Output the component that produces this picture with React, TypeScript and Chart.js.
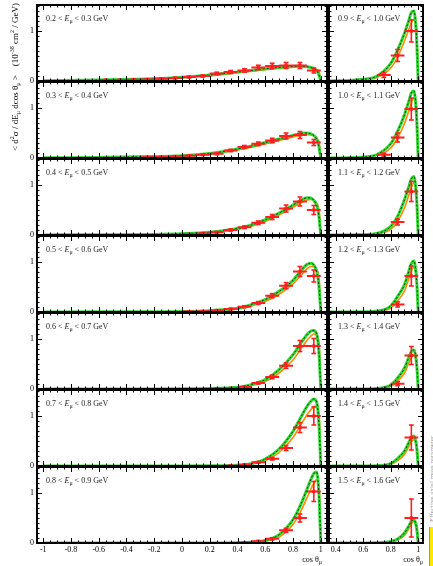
import React, { useEffect, useRef } from 'react';
import { Chart, registerables } from 'chart.js';

Chart.register(...registerables);

const W = 433;
const H = 566;
const FONT = '"Liberation Serif", "DejaVu Serif", "Times New Roman", serif';
const RED = '#ff1f1f';
const GREEN = '#30d830';
const ORANGE = '#ff8800';
const DOT = '#0a3a0a';

// Muon kinetic-energy bin edges (GeV)
const E_EDGES_LEFT = ['0.2', '0.3', '0.4', '0.5', '0.6', '0.7', '0.8', '0.9'];
const E_EDGES_RIGHT = ['0.9', '1.0', '1.1', '1.2', '1.3', '1.4', '1.5', '1.6'];

// Axis ticks
const X_TICKS_LEFT = [-1, -0.8, -0.6, -0.4, -0.2, 0, 0.2, 0.4, 0.6, 0.8, 1];
const X_LABELS_LEFT = ['-1', '-0.8', '-0.6', '-0.4', '-0.2', '0', '0.2', '0.4', '0.6', '0.8', '1'];
const X_TICKS_RIGHT = [0.4, 0.6, 0.8, 1];
const X_LABELS_RIGHT = ['0.4', '0.6', '0.8', '1'];
const Y_TICKS = [0, 1];
const Y_LABELS = ['0', '1'];

const BIN_HALF = 0.05;

// Theory curves: cos(theta) sampling
const CURVE_X_LEFT = [-1, -0.6, -0.2, 0, 0.2, 0.4, 0.5, 0.6, 0.7, 0.8, 0.85, 0.9, 0.93, 0.95, 0.97, 0.98, 0.99, 1.0];
const CURVE_X_RIGHT = [0.35, 0.5, 0.6, 0.7, 0.8, 0.85, 0.9, 0.93, 0.95, 0.97, 0.98, 0.99, 1.0];

const GREEN_L0 = [0.005, 0.02, 0.045, 0.075, 0.12, 0.18, 0.21, 0.245, 0.27, 0.29, 0.295, 0.285, 0.27, 0.25, 0.21, 0.17, 0.1, 0];
const ORANGE_L0 = [0.004, 0.017, 0.04, 0.066, 0.107, 0.165, 0.195, 0.228, 0.255, 0.275, 0.28, 0.275, 0.265, 0.25, 0.23, 0.21, 0.17, 0];
const GREEN_L1 = [0.003, 0.012, 0.028, 0.045, 0.09, 0.18, 0.24, 0.31, 0.38, 0.45, 0.49, 0.5, 0.48, 0.45, 0.38, 0.31, 0.18, 0];
const ORANGE_L1 = [0.003, 0.01, 0.024, 0.04, 0.08, 0.16, 0.215, 0.28, 0.35, 0.42, 0.455, 0.47, 0.46, 0.445, 0.4, 0.36, 0.28, 0];
const GREEN_L2 = [0.002, 0.005, 0.012, 0.025, 0.055, 0.13, 0.2, 0.305, 0.44, 0.6, 0.68, 0.745, 0.74, 0.69, 0.6, 0.5, 0.3, 0];
const ORANGE_L2 = [0.002, 0.004, 0.01, 0.021, 0.046, 0.11, 0.175, 0.27, 0.4, 0.555, 0.635, 0.7, 0.71, 0.7, 0.64, 0.58, 0.45, 0];
const GREEN_L3 = [0.001, 0.003, 0.006, 0.01, 0.027, 0.073, 0.147, 0.25, 0.413, 0.633, 0.8, 0.95, 0.975, 0.94, 0.82, 0.68, 0.42, 0];
const ORANGE_L3 = [0.001, 0.002, 0.005, 0.008, 0.021, 0.06, 0.122, 0.21, 0.355, 0.56, 0.71, 0.86, 0.91, 0.91, 0.86, 0.78, 0.6, 0];
const GREEN_L4 = [0, 0.001, 0.002, 0.003, 0.01, 0.033, 0.087, 0.187, 0.387, 0.687, 0.887, 1.087, 1.16, 1.17, 1.1, 0.95, 0.6, 0];
const ORANGE_L4 = [0, 0.001, 0.002, 0.003, 0.008, 0.026, 0.068, 0.15, 0.32, 0.58, 0.77, 0.97, 1.06, 1.1, 1.09, 1.02, 0.82, 0];
const GREEN_L5 = [0, 0, 0.001, 0.001, 0.004, 0.015, 0.047, 0.14, 0.34, 0.693, 0.94, 1.19, 1.3, 1.34, 1.28, 1.1, 0.7, 0];
const ORANGE_L5 = [0, 0, 0.001, 0.001, 0.003, 0.011, 0.036, 0.105, 0.27, 0.57, 0.79, 1.02, 1.13, 1.19, 1.2, 1.13, 0.92, 0];
const GREEN_L6 = [0, 0, 0, 0.001, 0.002, 0.006, 0.015, 0.053, 0.167, 0.467, 0.733, 1.067, 1.28, 1.39, 1.42, 1.25, 0.8, 0];
const ORANGE_L6 = [0, 0, 0, 0.001, 0.002, 0.004, 0.011, 0.038, 0.12, 0.37, 0.6, 0.9, 1.08, 1.2, 1.27, 1.22, 1.0, 0];

const GREEN_R0 = [0.002, 0.01, 0.033, 0.1, 0.353, 0.62, 0.953, 1.2, 1.37, 1.4, 1.2, 0.75, 0];
const ORANGE_R0 = [0.002, 0.007, 0.022, 0.07, 0.26, 0.48, 0.8, 1.02, 1.16, 1.24, 1.2, 1.0, 0];
const GREEN_R1 = [0.001, 0.005, 0.02, 0.07, 0.287, 0.533, 0.867, 1.12, 1.3, 1.34, 1.15, 0.72, 0];
const ORANGE_R1 = [0.001, 0.003, 0.013, 0.048, 0.2, 0.4, 0.69, 0.93, 1.1, 1.2, 1.15, 0.95, 0];
const GREEN_R2 = [0, 0.002, 0.008, 0.03, 0.173, 0.373, 0.707, 0.95, 1.12, 1.17, 1.0, 0.65, 0];
const ORANGE_R2 = [0, 0.002, 0.005, 0.021, 0.115, 0.275, 0.54, 0.78, 0.95, 1.05, 1.02, 0.85, 0];
const GREEN_R3 = [0, 0.001, 0.004, 0.02, 0.12, 0.313, 0.547, 0.8, 0.97, 1.02, 0.88, 0.57, 0];
const ORANGE_R3 = [0, 0.001, 0.003, 0.013, 0.08, 0.22, 0.42, 0.65, 0.82, 0.9, 0.88, 0.74, 0];
const GREEN_R4 = [0, 0, 0.002, 0.01, 0.08, 0.22, 0.42, 0.62, 0.75, 0.78, 0.68, 0.45, 0];
const ORANGE_R4 = [0, 0, 0.002, 0.007, 0.052, 0.155, 0.32, 0.51, 0.63, 0.68, 0.66, 0.56, 0];
const GREEN_R5 = [0, 0, 0.001, 0.006, 0.05, 0.15, 0.3, 0.46, 0.57, 0.6, 0.52, 0.35, 0];
const ORANGE_R5 = [0, 0, 0.001, 0.004, 0.035, 0.11, 0.23, 0.38, 0.48, 0.53, 0.52, 0.44, 0];
const GREEN_R6 = [0, 0, 0, 0.003, 0.03, 0.08, 0.2, 0.33, 0.43, 0.46, 0.4, 0.27, 0];
const ORANGE_R6 = [0, 0, 0, 0.002, 0.02, 0.06, 0.15, 0.28, 0.38, 0.44, 0.43, 0.37, 0];

// Measured points: bin centres, cross sections, errors
const COS_L0 = [-0.55, -0.45, -0.35, -0.25, -0.15, -0.05, 0.05, 0.15, 0.25, 0.35, 0.45, 0.55, 0.65, 0.75, 0.85, 0.95];
const XS_L0 = [0.02, 0.02, 0.025, 0.03, 0.045, 0.06, 0.08, 0.1, 0.15, 0.18, 0.21, 0.27, 0.3, 0.31, 0.31, 0.21];
const ERR_L0 = [0.008, 0.008, 0.009, 0.01, 0.012, 0.014, 0.016, 0.02, 0.025, 0.03, 0.035, 0.045, 0.055, 0.06, 0.06, 0.05];
const COS_L1 = [-0.25, -0.15, -0.05, 0.05, 0.15, 0.25, 0.35, 0.45, 0.55, 0.65, 0.75, 0.85, 0.95];
const XS_L1 = [0.015, 0.02, 0.03, 0.045, 0.067, 0.087, 0.15, 0.22, 0.285, 0.35, 0.44, 0.46, 0.31];
const ERR_L1 = [0.006, 0.008, 0.01, 0.012, 0.015, 0.018, 0.022, 0.03, 0.035, 0.045, 0.06, 0.07, 0.06];
const COS_L2 = [0.05, 0.15, 0.25, 0.35, 0.45, 0.55, 0.65, 0.75, 0.85, 0.95];
const XS_L2 = [0.015, 0.03, 0.055, 0.1, 0.155, 0.245, 0.36, 0.53, 0.67, 0.5];
const ERR_L2 = [0.006, 0.01, 0.012, 0.018, 0.025, 0.035, 0.05, 0.07, 0.09, 0.09];
const COS_L3 = [0.05, 0.15, 0.25, 0.35, 0.45, 0.55, 0.65, 0.75, 0.85, 0.95];
const XS_L3 = [0.008, 0.015, 0.03, 0.06, 0.107, 0.18, 0.327, 0.527, 0.81, 0.72];
const ERR_L3 = [0.004, 0.007, 0.01, 0.012, 0.018, 0.028, 0.04, 0.06, 0.1, 0.12];
const COS_L4 = [0.25, 0.35, 0.45, 0.55, 0.65, 0.75, 0.85, 0.95];
const XS_L4 = [0.005, 0.015, 0.04, 0.12, 0.24, 0.467, 0.86, 0.86];
const ERR_L4 = [0.003, 0.006, 0.01, 0.02, 0.035, 0.055, 0.11, 0.15];
const COS_L5 = [0.35, 0.45, 0.55, 0.65, 0.75, 0.85, 0.95];
const XS_L5 = [0.006, 0.025, 0.073, 0.147, 0.36, 0.77, 1.0];
const ERR_L5 = [0.004, 0.008, 0.015, 0.025, 0.05, 0.1, 0.18];
const COS_L6 = [0.45, 0.55, 0.65, 0.75, 0.85, 0.95];
const XS_L6 = [0.01, 0.035, 0.085, 0.253, 0.5, 1.03];
const ERR_L6 = [0.005, 0.012, 0.02, 0.04, 0.08, 0.2];

const COS_R0 = [0.75, 0.85, 0.95];
const XS_R0 = [0.12, 0.51, 1.0];
const ERR_R0 = [0.05, 0.12, 0.22];
const COS_R1 = [0.75, 0.85, 0.95];
const XS_R1 = [0.067, 0.41, 0.98];
const ERR_R1 = [0.03, 0.09, 0.22];
const COS_R2 = [0.85, 0.95];
const XS_R2 = [0.26, 0.87];
const ERR_R2 = [0.06, 0.2];
const COS_R3 = [0.85, 0.95];
const XS_R3 = [0.15, 0.72];
const ERR_R3 = [0.05, 0.2];
const COS_R4 = [0.85, 0.95];
const XS_R4 = [0.107, 0.67];
const ERR_R4 = [0.04, 0.18];
const COS_R5 = [0.95];
const XS_R5 = [0.57];
const ERR_R5 = [0.25];
const COS_R6 = [0.95];
const XS_R6 = [0.5];
const ERR_R6 = [0.38];

type Seg = { t: string; it?: boolean; sub?: boolean; sup?: boolean };

interface PanelDef {
  col: number;
  row: number;
  lo: string;
  hi: string;
  curveX: number[];
  green: number[];
  orange: number[];
  cos: number[];
  xs: number[];
  err: number[];
}

const LEFT_SETS = [
  [GREEN_L0, ORANGE_L0, COS_L0, XS_L0, ERR_L0],
  [GREEN_L1, ORANGE_L1, COS_L1, XS_L1, ERR_L1],
  [GREEN_L2, ORANGE_L2, COS_L2, XS_L2, ERR_L2],
  [GREEN_L3, ORANGE_L3, COS_L3, XS_L3, ERR_L3],
  [GREEN_L4, ORANGE_L4, COS_L4, XS_L4, ERR_L4],
  [GREEN_L5, ORANGE_L5, COS_L5, XS_L5, ERR_L5],
  [GREEN_L6, ORANGE_L6, COS_L6, XS_L6, ERR_L6],
];
const RIGHT_SETS = [
  [GREEN_R0, ORANGE_R0, COS_R0, XS_R0, ERR_R0],
  [GREEN_R1, ORANGE_R1, COS_R1, XS_R1, ERR_R1],
  [GREEN_R2, ORANGE_R2, COS_R2, XS_R2, ERR_R2],
  [GREEN_R3, ORANGE_R3, COS_R3, XS_R3, ERR_R3],
  [GREEN_R4, ORANGE_R4, COS_R4, XS_R4, ERR_R4],
  [GREEN_R5, ORANGE_R5, COS_R5, XS_R5, ERR_R5],
  [GREEN_R6, ORANGE_R6, COS_R6, XS_R6, ERR_R6],
];

const PANELS: PanelDef[] = [
  ...LEFT_SETS.map((s, r) => ({
    col: 0, row: r, lo: E_EDGES_LEFT[r], hi: E_EDGES_LEFT[r + 1], curveX: CURVE_X_LEFT,
    green: s[0], orange: s[1], cos: s[2], xs: s[3], err: s[4],
  })),
  ...RIGHT_SETS.map((s, r) => ({
    col: 1, row: r, lo: E_EDGES_RIGHT[r], hi: E_EDGES_RIGHT[r + 1], curveX: CURVE_X_RIGHT,
    green: s[0], orange: s[1], cos: s[2], xs: s[3], err: s[4],
  })),
];

const COL_GEOM = [
  { left: 37, right: 327, min: -1.045, max: 1.045, ticks: X_TICKS_LEFT, labels: X_LABELS_LEFT, titleRight: 322 },
  { left: 329, right: 423, min: 0.35, max: 1.035, ticks: X_TICKS_RIGHT, labels: X_LABELS_RIGHT, titleRight: 423 },
];
const ROW_TOP0 = 5;
const ROW_STEP = 77;
const ROW_H = 76;
const Y_MAX = 1.52;
const N_ROWS = 7;

function drawRich(ctx: CanvasRenderingContext2D, segs: Seg[], x: number, y: number, size: number, align: 'left' | 'right') {
  const fontFor = (s: Seg) => `${s.it ? 'italic ' : ''}${s.sub || s.sup ? Math.round(size * 0.72) : size}px ${FONT}`;
  ctx.textAlign = 'left';
  ctx.textBaseline = 'alphabetic';
  let total = 0;
  for (const s of segs) {
    ctx.font = fontFor(s);
    total += ctx.measureText(s.t).width;
  }
  let cx = align === 'right' ? x - total : x;
  for (const s of segs) {
    ctx.font = fontFor(s);
    const dy = s.sub ? size * 0.28 : s.sup ? -size * 0.42 : 0;
    ctx.fillText(s.t, cx, y + dy);
    cx += ctx.measureText(s.t).width;
  }
}

const Y_TITLE: Seg[] = [
  { t: '< d' }, { t: '2', sup: true }, { t: 'σ / dE' }, { t: 'μ', sub: true }, { t: ' dcos θ' }, { t: 'μ', sub: true },
  { t: ' >    (10' }, { t: '-38', sup: true }, { t: ' cm' }, { t: '2', sup: true }, { t: ' / GeV)' },
];
const X_TITLE: Seg[] = [{ t: 'cos θ' }, { t: 'μ', sub: true }];

function decoPlugin(p: PanelDef) {
  return {
    id: 'panelDeco',
    afterDraw(chart: any) {
      const ctx: CanvasRenderingContext2D = chart.ctx;
      const a = chart.chartArea;
      const xs = chart.scales.x;
      const ys = chart.scales.y;
      const g = COL_GEOM[p.col];
      ctx.save();
      // tick marks (inside the frame, all four sides)
      ctx.strokeStyle = '#000';
      ctx.lineWidth = 1;
      ctx.beginPath();
      const k0 = Math.ceil(xs.min / 0.05 - 1e-6);
      const k1 = Math.floor(xs.max / 0.05 + 1e-6);
      for (let k = k0; k <= k1; k++) {
        const px = Math.round(xs.getPixelForValue(k * 0.05)) + 0.5;
        const len = k % 4 === 0 ? 5 : 2.5;
        ctx.moveTo(px, a.bottom);
        ctx.lineTo(px, a.bottom - len);
        ctx.moveTo(px, a.top);
        ctx.lineTo(px, a.top + len);
      }
      for (let k = 0; k * 0.1 <= ys.max + 1e-6; k++) {
        const py = Math.round(ys.getPixelForValue(k * 0.1)) + 0.5;
        const len = k % 10 === 0 ? 5 : 2.5;
        ctx.moveTo(a.left, py);
        ctx.lineTo(a.left + len, py);
        ctx.moveTo(a.right, py);
        ctx.lineTo(a.right - len, py);
      }
      ctx.stroke();
      // frame
      ctx.lineWidth = 2;
      ctx.strokeRect(a.left, a.top, a.right - a.left, a.bottom - a.top);

      // panel label
      ctx.fillStyle = '#222';
      drawRich(ctx, [{ t: p.lo + ' < ' }, { t: 'E', it: true }, { t: 'μ', sub: true }, { t: ' < ' + p.hi + ' GeV' }], a.left + 9, a.top + 16, 8, 'left');

      ctx.fillStyle = '#000';
      if (p.col === 0) {
        ctx.font = `8px ${FONT}`;
        ctx.textAlign = 'right';
        ctx.textBaseline = 'middle';
        Y_TICKS.forEach((v, i) => ctx.fillText(Y_LABELS[i], a.left - 3, ys.getPixelForValue(v)));
      }
      if (p.row === N_ROWS - 1) {
        ctx.font = `8px ${FONT}`;
        ctx.textAlign = 'center';
        ctx.textBaseline = 'top';
        g.ticks.forEach((v, i) => ctx.fillText(g.labels[i], xs.getPixelForValue(v), a.bottom + 3));
        drawRich(ctx, X_TITLE, g.titleRight, 562, 8, 'right');
      }
      if (p.col === 0 && p.row === 0) {
        ctx.save();
        ctx.translate(17.5, 3);
        ctx.rotate(-Math.PI / 2);
        drawRich(ctx, Y_TITLE, 0, 0, 9, 'right');
        ctx.restore();
      }
      if (p.col === 1 && p.row === N_ROWS - 1) {
        ctx.save();
        ctx.translate(433.5, 522);
        ctx.rotate(-Math.PI / 2);
        ctx.fillStyle = '#9a9a9a';
        ctx.font = `7px ${FONT}`;
        ctx.textAlign = 'left';
        ctx.textBaseline = 'alphabetic';
        ctx.fillText('Effective axial mass parameter', 0, 0);
        ctx.restore();
      }
      ctx.restore();
    },
  };
}

function Panel({ p }: { p: PanelDef }) {
  const ref = useRef<HTMLCanvasElement>(null);
  useEffect(() => {
    const g = COL_GEOM[p.col];
    const top = ROW_TOP0 + p.row * ROW_STEP;
    const bottom = top + ROW_H;
    const greenPts = p.curveX.map((x, i) => ({ x, y: p.green[i] }));
    const orangePts = p.curveX.map((x, i) => ({ x, y: p.orange[i] }));
    const hb: any[] = [];
    const vb: any[] = [];
    const ctr: any[] = [];
    p.cos.forEach((c, i) => {
      const v = p.xs[i];
      const e = p.err[i];
      hb.push({ x: c - BIN_HALF, y: v }, { x: c + BIN_HALF, y: v }, { x: c, y: null });
      vb.push({ x: c, y: Math.max(v - e, 0) }, { x: c, y: v + e }, { x: c, y: null });
      ctr.push({ x: c, y: v });
    });
    const chart = new Chart(ref.current as HTMLCanvasElement, {
      type: 'line',
      data: {
        datasets: [
          { label: 'data', data: ctr, showLine: false, pointStyle: 'rect', pointRadius: 2.3, pointBackgroundColor: RED, pointBorderColor: RED, pointBorderWidth: 0 } as any,
          { label: 'stat', data: vb, borderColor: RED, borderWidth: 1.6, pointStyle: 'line', pointRadius: 2.4, pointBorderColor: RED, pointBorderWidth: 1.6, spanGaps: false } as any,
          { label: 'bins', data: hb, borderColor: RED, borderWidth: 2, pointRadius: 0, spanGaps: false } as any,
          { label: 'central', data: greenPts, borderColor: DOT, borderWidth: 1, borderDash: [2, 2], pointRadius: 0, cubicInterpolationMode: 'monotone' } as any,
          { label: 'band', data: greenPts, borderColor: GREEN, borderWidth: 3, pointRadius: 0, cubicInterpolationMode: 'monotone' } as any,
          { label: 'alt', data: orangePts, borderColor: ORANGE, borderWidth: 1.6, pointRadius: 0, cubicInterpolationMode: 'monotone' } as any,
        ],
      },
      options: {
        responsive: false,
        animation: false,
        devicePixelRatio: 1,
        events: [],
        layout: {
          autoPadding: false,
          padding: { left: g.left, right: W - g.right, top, bottom: H - bottom },
        },
        plugins: { legend: { display: false }, tooltip: { enabled: false }, title: { display: false } },
        scales: {
          x: { type: 'linear', min: g.min, max: g.max, display: false },
          y: { type: 'linear', min: 0, max: Y_MAX, display: false },
        },
      } as any,
      plugins: [decoPlugin(p)],
    });
    return () => chart.destroy();
  }, [p]);
  return (
    <canvas
      ref={ref}
      width={W}
      height={H}
      style={{ position: 'absolute', left: 0, top: 0, width: W, height: H, pointerEvents: 'none' }}
    />
  );
}

export default function App() {
  return (
    <div style={{ position: 'absolute', left: 0, top: 0, width: W, height: H, overflow: 'hidden', background: '#fff' }}>
      {PANELS.map((p, i) => (
        <Panel key={i} p={p} />
      ))}
      <div
        style={{
          position: 'absolute', left: 429, top: 527, width: 6, height: 41,
          background: '#ffe800', borderLeft: '1px solid #ff7a00',
        }}
      />
    </div>
  );
}
